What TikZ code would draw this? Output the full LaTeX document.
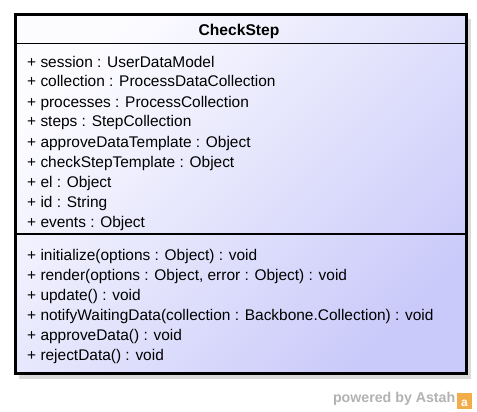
\documentclass[tikz,border=0pt]{standalone}
\usepackage{fontspec}
\setmainfont{Liberation Sans}
\usetikzlibrary{positioning}
\definecolor{classtop}{RGB}{252,252,255}
\definecolor{classbot}{RGB}{202,202,250}
\definecolor{shadowgray}{RGB}{218,218,218}
\definecolor{astahgray}{RGB}{178,178,178}
\definecolor{astahorange}{RGB}{242,172,72}

\begin{document}
\begin{tikzpicture}[x=1pt,y=-1pt,every node/.style={inner sep=0pt,font=\fontsize{15.45}{18}\selectfont},member/.style={anchor=base west},sep/.style={line width=1.6pt}]
  \useasboundingbox (0,0) rectangle (477,412);
  % shadow and class box
  \fill[shadowgray] (19,19) rectangle (471,379);
  \node[draw,line width=3pt,minimum width=451pt,minimum height=358pt,anchor=north west,top color=classtop,bottom color=classbot,shading angle=45] (class) at (13.5,13.5) {};
  \coordinate (titlesep) at (0,43.5);
  \coordinate (attrsep) at (0,234);
  \draw[sep] (class.west |- titlesep) -- (class.east |- titlesep);
  \draw[sep] (class.west |- attrsep) -- (class.east |- attrsep);
  \node[anchor=base,font=\bfseries\fontsize{15.6}{18}\selectfont] (title) at (239,35.5) {CheckStep};
  % attributes
  \node[member] (session) at (27,67) {+ session : UserDataModel};
  \node[member] (collection) at (27,87) {+ collection : ProcessDataCollection};
  \node[member] (processes) at (27,107) {+ processes : ProcessCollection};
  \node[member] (steps) at (27,127) {+ steps : StepCollection};
  \node[member] (approvetpl) at (27,147) {+ approveDataTemplate : Object};
  \node[member] (checktpl) at (27,167) {+ checkStepTemplate : Object};
  \node[member] (el) at (27,187) {+ el : Object};
  \node[member] (id) at (27,207) {+ id : String};
  \node[member] (events) at (27,227) {+ events : Object};
  % operations
  \node[member] (initialize) at (27,260.5) {+ initialize(options : Object) : void};
  \node[member] (render) at (27,280.5) {+ render(options : Object, error : Object) : void};
  \node[member] (update) at (27,300.5) {+ update() : void};
  \node[member] (notify) at (27,320.5) {+ notifyWaitingData(collection : Backbone.Collection) : void};
  \node[member] (approve) at (27,340.5) {+ approveData() : void};
  \node[member] (reject) at (27,360.5) {+ rejectData() : void};
  % logo
  \node[anchor=base east,text=astahgray,font=\bfseries\fontsize{14.2}{16}\selectfont] (powered) at (455.5,402) {powered by Astah};
  \fill[astahorange] (457,393) rectangle (472,409);
  \node[anchor=base,text=white,font=\bfseries\fontsize{12}{14}\selectfont] (astaha) at (464.5,406) {a};
\end{tikzpicture}
\end{document}
